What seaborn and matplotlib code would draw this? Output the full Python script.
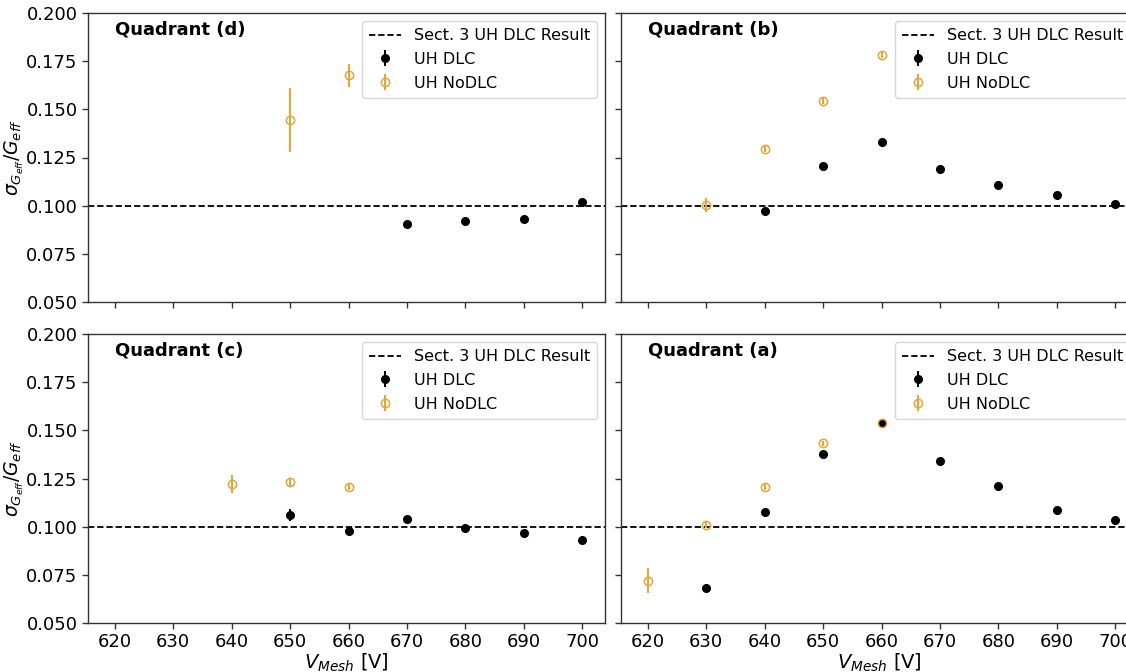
import numpy as np
import pandas as pd
import matplotlib
matplotlib.use("Agg")
import matplotlib.pyplot as plt
import seaborn as sns

sns.set_theme(style="white")
plt.rcParams['font.family'] = ['DejaVu Sans']
plt.rcParams['mathtext.fontset'] = 'dejavusans'
for k in ("text.color", "axes.labelcolor", "xtick.color", "ytick.color"):
    plt.rcParams[k] = "black"

# ---- data ----
quadrants = ["d", "b", "c", "a"]

d_dlc_v = [670, 680, 690, 700]
d_dlc_y = [0.0905, 0.0920, 0.0930, 0.1017]
d_dlc_e = [0.0012, 0.0010, 0.0010, 0.0012]
d_nodlc_v = [650, 660]
d_nodlc_y = [0.1445, 0.1677]
d_nodlc_e = [0.0166, 0.0060]

b_dlc_v = [640, 650, 660, 670, 680, 690, 700]
b_dlc_y = [0.0972, 0.1208, 0.1329, 0.1188, 0.1107, 0.1057, 0.1010]
b_dlc_e = [0.0010, 0.0010, 0.0010, 0.0010, 0.0010, 0.0010, 0.0010]
b_nodlc_v = [630, 640, 650, 660]
b_nodlc_y = [0.1003, 0.1296, 0.1545, 0.1782]
b_nodlc_e = [0.0037, 0.0015, 0.0015, 0.0015]

c_dlc_v = [650, 660, 670, 680, 690, 700]
c_dlc_y = [0.1061, 0.0976, 0.1042, 0.0995, 0.0969, 0.0931]
c_dlc_e = [0.0033, 0.0010, 0.0010, 0.0010, 0.0010, 0.0010]
c_nodlc_v = [640, 650, 660]
c_nodlc_y = [0.1220, 0.1230, 0.1208]
c_nodlc_e = [0.0046, 0.0020, 0.0020]

a_dlc_v = [630, 640, 650, 660, 670, 680, 690, 700]
a_dlc_y = [0.0683, 0.1076, 0.1379, 0.1536, 0.1342, 0.1211, 0.1085, 0.1035]
a_dlc_e = [0.0020, 0.0010, 0.0010, 0.0010, 0.0010, 0.0010, 0.0010, 0.0010]
a_nodlc_v = [620, 630, 640, 650, 660]
a_nodlc_y = [0.0720, 0.1010, 0.1206, 0.1433, 0.1536]
a_nodlc_e = [0.0063, 0.0015, 0.0015, 0.0012, 0.0010]

reference_value = 0.1
x_ticks = [620, 630, 640, 650, 660, 670, 680, 690, 700]
y_ticks = [0.050, 0.075, 0.100, 0.125, 0.150, 0.175, 0.200]

data = {
    "d": (d_dlc_v, d_dlc_y, d_dlc_e, d_nodlc_v, d_nodlc_y, d_nodlc_e),
    "b": (b_dlc_v, b_dlc_y, b_dlc_e, b_nodlc_v, b_nodlc_y, b_nodlc_e),
    "c": (c_dlc_v, c_dlc_y, c_dlc_e, c_nodlc_v, c_nodlc_y, c_nodlc_e),
    "a": (a_dlc_v, a_dlc_y, a_dlc_e, a_nodlc_v, a_nodlc_y, a_nodlc_e),
}

gold = "#E2A63A"
fs_tick = 13
fs_leg = 11.5
fs_title = 13

fig = plt.figure(figsize=(11.26, 6.72), dpi=100)
W, H = 1126, 672
boxes = {
    "d": (88, 13, 605, 302),
    "b": (621, 13, 1138, 302),
    "c": (88, 334, 605, 623),
    "a": (621, 334, 1138, 623),
}

for q in quadrants:
    x0, y0, x1, y1 = boxes[q]
    ax = fig.add_axes([x0 / W, 1 - y1 / H, (x1 - x0) / W, (y1 - y0) / H])
    dv, dy, de, nv, ny, ne = data[q]
    ax.axhline(reference_value, color="black", ls="--", lw=1.3,
               label="Sect. 3 UH DLC Result", dashes=(3.5, 1.6))
    ax.errorbar(dv, dy, yerr=de, fmt="o", color="black", ms=5.5,
                elinewidth=1.4, label="UH DLC")
    ax.errorbar(nv, ny, yerr=ne, fmt="o", color=gold, mfc="none", mec=gold,
                ms=6, mew=1.1, elinewidth=1.5, label="UH NoDLC")
    ax.set_xlim(615.4, 703.9)
    ax.set_ylim(0.05, 0.2)
    ax.set_xticks(x_ticks)
    ax.set_yticks(y_ticks)
    ax.tick_params(axis="both", which="both", direction="out", length=4,
                   width=1, color="#333333", labelsize=fs_tick, bottom=True, left=True)
    for s in ax.spines.values():
        s.set_color("#333333")
        s.set_linewidth(1)
    if q in ("d", "c"):
        ax.set_yticklabels([f"{t:.3f}" for t in y_ticks])
        ax.set_ylabel(r"$\sigma_{G_{eff}}/G_{eff}$", fontsize=fs_tick + 0.5, labelpad=0)
    else:
        ax.set_yticklabels([])
    if q in ("c", "a"):
        ax.set_xticklabels([str(t) for t in x_ticks])
        ax.set_xlabel(r"$V_{Mesh}$ [V]", fontsize=fs_tick + 1, labelpad=0)
    else:
        ax.set_xticklabels([])
    ax.text(0.052, 0.975, f"Quadrant ({q})", transform=ax.transAxes,
            fontsize=fs_title, fontweight="bold", va="top", ha="left")
    ax.legend(loc="upper right", fontsize=fs_leg, frameon=True, framealpha=0.8,
              edgecolor="#cccccc", fancybox=True, borderpad=0.45,
              labelspacing=0.55, handlelength=2.0)

fig.savefig("out.png", dpi=100)
